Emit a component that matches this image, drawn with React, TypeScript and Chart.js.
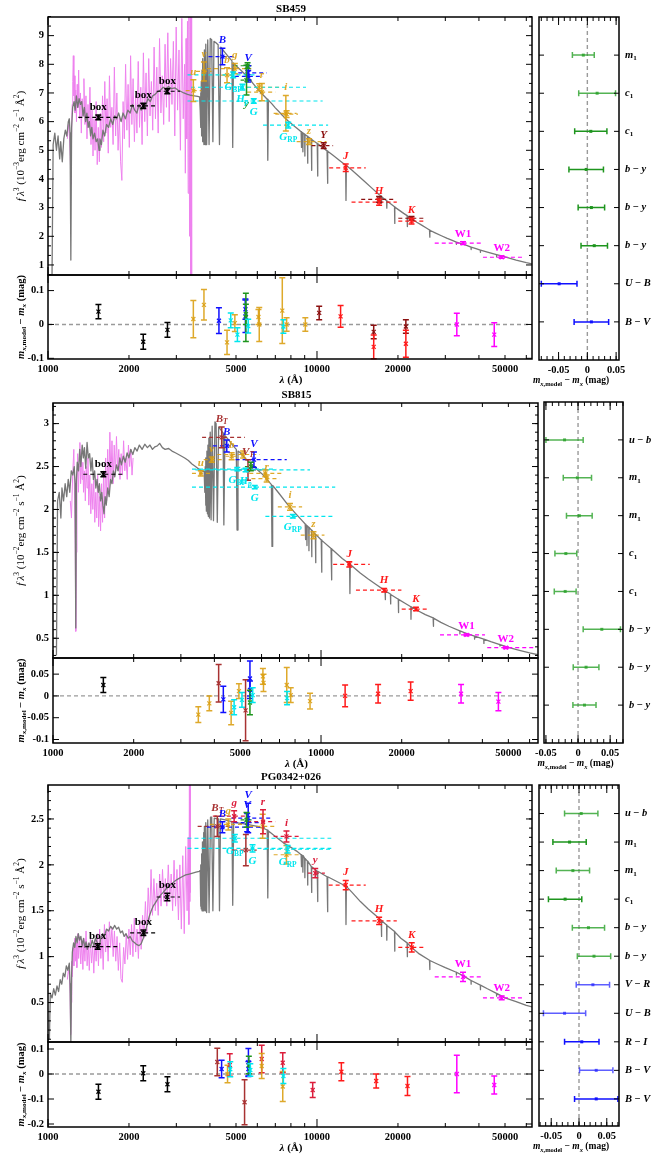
import React, { useEffect, useRef } from 'react';
import { Chart, registerables } from 'chart.js';

Chart.register(...registerables);

const W = 665;
const H = 1155;
const FONT = "'Liberation Serif','DejaVu Serif','Times New Roman',serif";

// ================= DATA =================
// ---- SB459 ----
const p1Model: number[][] = [[1035,0.6],[1045,5.2],[1060,5.6],[1075,5.0],[1090,5.5],[1105,4.7],[1115,5.3],[1130,4.6],[1145,5.4],[1160,5.7],[1175,5.5],[1190,6.0],[1200,6.1],[1208,5.6],[1216,1.17],[1224,5.8],[1235,6.5],[1250,6.7],[1262,6.4],[1275,6.9],[1290,6.5],[1305,6.8],[1320,6.6],[1335,6.7],[1350,6.2],[1365,6.5],[1380,6.0],[1395,6.3],[1410,5.8],[1425,6.0],[1440,5.5],[1455,5.8],[1470,5.4],[1490,5.6],[1510,5.3],[1530,5.4],[1548,5.0],[1560,5.4],[1580,5.2],[1600,5.7],[1625,5.5],[1650,5.9],[1680,5.8],[1710,6.1],[1740,5.9],[1770,6.2],[1800,6.1],[1830,6.3],[1870,6.0],[1900,6.3],[1940,6.1],[1980,6.4],[2020,6.3],[2060,6.6],[2100,6.4],[2140,6.3],[2180,6.6],[2220,6.4],[2260,6.6],[2300,6.5],[2350,6.8],[2400,6.7],[2450,6.9],[2500,6.95],[2560,7.05],[2620,7.1],[2680,7.2],[2740,7.15],[2800,7.22],[2880,7.15],[2960,7.18],[3040,7.1],[3120,7.05],[3200,7.0],[3300,6.95],[3400,6.92],[3500,6.9],[3600,6.88],[3660,6.86],[3680,6.4],[3692,7.0],[3703,5.8],[3715,7.4],[3725,5.5],[3738,7.8],[3750,5.3],[3768,8.2],[3798,5.2],[3815,8.5],[3835,5.2],[3860,8.7],[3889,5.2],[3925,8.85],[3970,5.2],[4010,8.9],[4060,8.86],[4102,5.3],[4140,8.8],[4200,8.76],[4290,8.68],[4340,5.2],[4390,8.6],[4470,8.5],[4560,8.4],[4650,8.3],[4750,8.2],[4830,8.12],[4861,5.1],[4890,8.05],[5000,7.95],[5200,7.8],[5400,7.65],[5600,7.5],[5800,7.32],[6000,7.15],[6200,7.0],[6400,6.87],[6530,6.78],[6563,4.65],[6600,6.75],[6800,6.62],[7000,6.48],[7200,6.36],[7400,6.24],[7600,6.13],[7800,6.03],[8000,5.94],[8200,5.86],[8400,5.78],[8600,5.7],[8730,5.65],[8750,5.1],[8770,5.64],[8845,5.61],[8863,4.95],[8880,5.6],[9000,5.56],[9015,4.8],[9030,5.55],[9210,5.49],[9229,4.55],[9250,5.48],[9525,5.39],[9546,4.3],[9570,5.38],[10020,5.24],[10049,4.1],[10080,5.23],[10900,4.98],[10938,3.85],[10980,4.97],[11500,4.82],[12200,4.63],[12780,4.48],[12818,3.25],[12860,4.47],[13500,4.3],[14200,4.12],[15000,3.92],[16000,3.68],[17000,3.46],[17330,3.4],[17367,3.15],[17400,3.38],[18150,3.24],[18179,2.98],[18210,3.23],[19420,3.03],[19451,2.45],[19480,3.02],[20000,2.94],[21000,2.8],[21630,2.72],[21661,2.34],[21700,2.71],[22500,2.61],[23500,2.49],[24500,2.39],[25500,2.29],[26200,2.22],[26252,1.97],[26300,2.21],[27500,2.12],[29000,2.02],[30500,1.93],[32000,1.85],[32950,1.8],[32970,1.72],[33000,1.8],[34500,1.74],[36000,1.68],[37380,1.62],[37405,1.54],[37430,1.62],[39000,1.57],[40480,1.52],[40512,1.44],[40550,1.52],[43000,1.45],[46490,1.36],[46525,1.28],[46560,1.36],[50000,1.28],[55000,1.17],[60000,1.08],[63500,1.03]];
const p1Iue: number[][] = [[1180,5.4],[1190,5.9],[1200,5.6],[1210,4.8],[1216,3.8],[1222,5.2],[1230,6.6],[1236,7.4],[1242,8.3],[1248,6.9],[1254,7.6],[1260,6.3],[1268,7.1],[1276,6.0],[1284,7.3],[1292,6.5],[1300,7.8],[1310,6.1],[1320,7.0],[1330,5.6],[1340,6.8],[1350,6.2],[1360,7.5],[1372,5.9],[1384,6.9],[1396,5.4],[1408,6.6],[1420,5.8],[1432,7.2],[1445,5.2],[1458,6.4],[1470,4.8],[1483,6.1],[1496,5.0],[1510,6.7],[1524,4.5],[1538,5.8],[1552,4.6],[1566,6.3],[1580,5.1],[1595,6.9],[1610,5.3],[1626,7.4],[1642,5.6],[1658,6.8],[1675,4.9],[1692,7.6],[1710,5.8],[1728,6.5],[1746,5.2],[1765,7.9],[1784,5.5],[1803,7.0],[1822,5.0],[1842,6.2],[1862,4.6],[1882,3.95],[1902,6.7],[1922,5.4],[1943,8.0],[1964,5.7],[1985,7.3],[2006,5.1],[2028,8.3],[2050,5.9],[2072,7.5],[2095,5.3],[2118,6.9],[2141,5.6],[2165,8.1],[2189,5.8],[2213,7.2],[2238,5.2],[2263,8.4],[2289,6.0],[2315,7.7],[2341,5.5],[2368,8.2],[2395,6.2],[2423,7.4],[2451,5.7],[2480,8.6],[2509,6.1],[2538,7.9],[2568,5.6],[2598,8.9],[2629,6.3],[2660,7.6],[2692,5.9],[2724,8.7],[2756,6.5],[2789,9.1],[2822,6.0],[2856,8.2],[2890,6.6],[2925,8.8],[2960,5.5],[2996,9.3],[3032,6.4],[3069,8.5],[3106,5.0],[3144,9.6],[3182,6.1],[3220,8.0],[3240,4.2],[3260,8.9],[3280,5.4],[3300,9.5],[3320,3.5],[3340,9.9],[3360,2.0],[3380,10.5],[3395,0.2],[3410,10.5],[3420,0.0]];
const p1PhotWave = [1538, 2261, 2777, 3470, 3800, 4630, 4950, 6240, 6100, 7660, 7710, 9340, 4450, 5550, 5550, 5470, 5520, 4880, 5280, 5820, 7820, 10590, 12790, 17020, 17020, 22460, 22460, 34900, 48600];
const p1PhotFlux = [6.15, 6.55, 7.06, 7.08, 7.75, 7.62, 7.85, 7.03, 7.2, 6.29, 6.26, 5.3, 8.27, 7.7, 7.58, 7.45, 7.95, 7.63, 7.2, 6.72, 5.88, 5.16, 4.39, 3.29, 3.19, 2.63, 2.53, 1.76, 1.27];
const p1PhotErr = [0.08, 0.09, 0.09, 0.38, 0.33, 0.26, 0.18, 0.3, 0.12, 0.62, 0.12, 0.1, 0.29, 0.25, 0.2, 0.52, 0.1, 0.1, 0.1, 0.08, 0.1, 0.1, 0.13, 0.1, 0.11, 0.06, 0.1, 0.05, 0.04];
const p1PhotLo = [1296, 2018, 2535, 3250, 3550, 4400, 3900, 5500, 5500, 6900, 7000, 8400, 3950, 4800, 4950, 5200, 4900, 3300, 3400, 3300, 6300, 9540, 11100, 14600, 13440, 20060, 20060, 27400, 41400];
const p1PhotHi = [1825, 2535, 3097, 3720, 4060, 4880, 5700, 7000, 7300, 8400, 8500, 10850, 4900, 6500, 6300, 5750, 5800, 6000, 9100, 10500, 11000, 11480, 15180, 19530, 19800, 25240, 25240, 40980, 59200];
const p1PhotSys = ['box','box','box','orange','orange','orange','orange','orange','orange','orange','orange','orange','johnson','johnson','johnson','stromgren','stromgren','gaia','hip','gaia','gaia','ukidss','twomass','ukidss','twomass','ukidss','twomass','wise','wise'];
const p1PhotLabel = ['box','box','box','u','v','b','g','r','','i','','z','B','V','','y','','G_BP','H_p','G','G_RP','Y','J','','H','','K','W1','W2'];
const p1ResWave = [1540, 2260, 2780, 3470, 3800, 4320, 4630, 4780, 4950, 5060, 5420, 5420, 5440, 5440, 5550, 6060, 6100, 7430, 7500, 7710, 9050, 10190, 12240, 16250, 16250, 21400, 21400, 33100, 45600];
const p1ResVal = [0.038, -0.051, -0.016, 0.016, 0.058, 0.011, -0.053, 0.012, 0.004, -0.03, 0.045, 0.024, 0.021, 0.03, -0.005, 0.022, 0, 0.041, -0.006, 0, 0, 0.034, 0.024, -0.022, -0.066, -0.006, -0.057, 0, -0.03];
const p1ResErr = [0.021, 0.022, 0.022, 0.055, 0.045, 0.038, 0.036, 0.022, 0.025, 0.02, 0.03, 0.048, 0.071, 0.03, 0.02, 0.022, 0.05, 0.097, 0.02, 0.02, 0.02, 0.02, 0.032, 0.02, 0.035, 0.02, 0.04, 0.033, 0.035];
const p1ResSys = ['box','box','box','orange','orange','johnson','orange','gaia','orange','gaia','johnson','johnson','stromgren','stromgren','gaia','orange','orange','orange','gaia','orange','orange','ukidss','twomass','ukidss','twomass','ukidss','twomass','wise','wise'];
const p1ColName = ['m1', 'c1', 'c1', 'b-y', 'b-y', 'b-y', 'U-B', 'B-V'];
const p1ColVal = [-0.007, 0.017, 0.006, -0.002, 0.007, 0.012, -0.049, 0.007];
const p1ColErr = [0.019, 0.032, 0.028, 0.03, 0.023, 0.023, 0.031, 0.03];
const p1ColSys = ['stromgrenL','stromgrenL','stromgren','stromgren','stromgren','stromgren','johnson','johnson'];

// ---- SB815 ----
const p2Model: number[][] = [[1030,0.3],[1040,2.1],[1055,2.2],[1070,1.9],[1080,2.25],[1095,2.1],[1110,2.3],[1125,2.15],[1140,2.35],[1155,2.2],[1170,2.45],[1185,2.4],[1200,2.5],[1209,2.3],[1216,0.62],[1223,2.35],[1232,2.55],[1245,2.45],[1258,2.7],[1270,2.5],[1285,2.75],[1298,2.6],[1310,2.72],[1325,2.48],[1340,2.78],[1355,2.6],[1370,2.65],[1385,2.45],[1400,2.6],[1415,2.35],[1430,2.45],[1445,2.25],[1460,2.35],[1475,2.2],[1490,2.3],[1505,2.1],[1520,2.2],[1535,2.05],[1550,1.95],[1565,2.15],[1580,2.05],[1600,2.25],[1620,2.15],[1640,2.35],[1660,2.3],[1680,2.45],[1700,2.38],[1725,2.52],[1750,2.45],[1775,2.6],[1800,2.52],[1830,2.62],[1860,2.55],[1890,2.66],[1920,2.6],[1950,2.7],[1985,2.64],[2020,2.72],[2060,2.68],[2100,2.75],[2150,2.7],[2200,2.76],[2250,2.72],[2300,2.75],[2350,2.7],[2400,2.73],[2450,2.74],[2500,2.77],[2560,2.72],[2620,2.7],[2700,2.71],[2780,2.68],[2860,2.66],[2940,2.64],[3020,2.62],[3100,2.6],[3200,2.57],[3300,2.53],[3400,2.5],[3500,2.47],[3600,2.45],[3665,2.44],[3685,2.2],[3698,2.5],[3710,2.05],[3722,2.6],[3735,1.98],[3752,2.68],[3770,1.95],[3785,2.75],[3798,1.92],[3815,2.83],[3835,1.9],[3860,2.9],[3889,1.88],[3925,2.97],[3970,1.87],[4020,3.02],[4060,3.0],[4102,1.85],[4150,2.96],[4250,2.92],[4310,2.89],[4340,1.82],[4380,2.86],[4550,2.8],[4700,2.74],[4830,2.7],[4861,1.76],[4900,2.68],[5000,2.66],[5200,2.6],[5400,2.55],[5600,2.51],[5800,2.46],[6000,2.42],[6250,2.36],[6530,2.29],[6563,1.57],[6600,2.28],[6800,2.23],[7000,2.18],[7500,2.06],[8000,1.96],[8500,1.87],[8730,1.83],[8750,1.65],[8770,1.83],[8845,1.81],[8863,1.58],[8880,1.81],[9000,1.79],[9015,1.52],[9030,1.79],[9210,1.76],[9229,1.45],[9250,1.76],[9525,1.71],[9546,1.38],[9570,1.71],[10020,1.645],[10049,1.27],[10080,1.64],[10900,1.545],[10938,1.18],[10980,1.54],[12000,1.43],[12780,1.365],[12818,1.02],[12860,1.36],[14000,1.26],[15000,1.19],[16000,1.13],[17330,1.055],[17367,0.95],[17400,1.05],[18150,1.015],[18179,0.9],[18210,1.01],[19420,0.955],[19451,0.8],[19480,0.953],[20500,0.91],[21630,0.867],[21661,0.72],[21700,0.865],[23000,0.82],[24500,0.775],[26200,0.737],[26252,0.64],[26300,0.735],[28000,0.685],[30000,0.64],[32950,0.585],[32970,0.55],[33000,0.585],[35000,0.555],[37380,0.525],[37405,0.49],[37430,0.524],[40480,0.49],[40512,0.44],[40550,0.49],[43000,0.46],[46490,0.427],[46525,0.41],[46560,0.426],[50000,0.395],[55000,0.36],[60000,0.33],[65000,0.305]];
const p2Iue: number[][] = [[1160,2.1],[1172,1.9],[1184,2.4],[1196,2.7],[1204,2.1],[1210,1.6],[1216,0.58],[1222,1.5],[1228,2.3],[1236,2.65],[1244,2.2],[1252,2.5],[1260,2.78],[1268,2.3],[1276,2.6],[1284,2.35],[1292,2.55],[1300,2.2],[1310,2.45],[1320,2.1],[1330,2.5],[1340,2.25],[1350,2.6],[1360,2.05],[1372,2.4],[1384,1.95],[1396,2.3],[1408,2.0],[1420,2.35],[1432,1.85],[1444,2.2],[1456,1.9],[1468,2.4],[1480,1.8],[1492,2.15],[1505,1.75],[1518,2.3],[1531,1.85],[1545,2.45],[1558,1.9],[1572,2.6],[1586,2.1],[1600,2.7],[1615,2.2],[1630,2.9],[1645,2.35],[1660,2.8],[1676,2.3],[1692,2.75],[1708,2.4],[1725,2.85],[1742,2.45],[1760,2.7],[1778,2.35],[1796,2.65],[1815,2.4],[1834,2.8],[1853,2.45],[1872,2.6],[1892,2.35],[1912,2.75],[1932,2.5],[1952,2.7],[1972,2.4],[1990,2.6]];
const p2PhotWave = [1541, 3560, 3910, 4640, 5120, 6270, 6200, 7660, 9370, 4260, 5340, 4450, 5620, 5470, 4870, 5230, 5660, 7850, 12750, 17200, 22600, 34900, 48900];
const p2PhotFlux = [2.41, 2.42, 2.58, 2.62, 2.64, 2.36, 2.42, 2.03, 1.70, 2.84, 2.46, 2.74, 2.58, 2.5, 2.47, 2.46, 2.26, 1.92, 1.36, 1.06, 0.84, 0.54, 0.39];
const p2PhotErr = [0.03, 0.03, 0.03, 0.04, 0.04, 0.04, 0.04, 0.04, 0.04, 0.12, 0.12, 0.07, 0.09, 0.05, 0.02, 0.02, 0.02, 0.02, 0.03, 0.02, 0.02, 0.01, 0.01];
const p2PhotLo = [1297, 3300, 3650, 4400, 4100, 5500, 5400, 6900, 8400, 3600, 4900, 3950, 4800, 5200, 3300, 3400, 3300, 6200, 11100, 13500, 20000, 27800, 41700];
const p2PhotHi = [1830, 3900, 4300, 4900, 5900, 7000, 7200, 8500, 10300, 5200, 6000, 4950, 7450, 5750, 6800, 9100, 11300, 11300, 15200, 19950, 25100, 40900, 62700];
const p2PhotSys = ['box','orange','orange','orange','orange','orange','orange','orange','orange','tycho','tycho','johnson','johnson','stromgren','gaia','hip','gaia','gaia','twomass','twomass','twomass','wise','wise'];
const p2PhotLabel = ['box','u','v','b','','r','','i','z','B_T','V_T','B','V','','G_BP','H_p','G','G_RP','J','H','K','W1','W2'];
const p2ResWave = [1541, 3485, 3830, 4150, 4320, 4620, 4740, 4940, 5070, 5230, 5430, 5430, 5430, 5560, 6070, 6100, 7450, 7470, 7710, 9100, 12300, 16330, 21600, 33300, 45900];
const p2ResVal = [0.025, -0.043, -0.017, 0.029, -0.008, -0.039, -0.026, 0.011, -0.009, -0.033, 0.04, 0.014, -0.015, 0.002, 0.045, 0.03, 0.025, -0.005, 0.002, -0.012, 0, 0.005, 0.011, 0.005, -0.013];
const p2ResErr = [0.017, 0.018, 0.017, 0.043, 0.03, 0.027, 0.017, 0.017, 0.017, 0.07, 0.04, 0.02, 0.028, 0.017, 0.018, 0.02, 0.04, 0.015, 0.017, 0.018, 0.025, 0.021, 0.021, 0.021, 0.021];
const p2ResSys = ['box','orange','orange','tycho','johnson','orange','gaia','orange','gaia','tycho','johnson','johnson','stromgren','gaia','orange','orange','orange','gaia','orange','orange','twomass','twomass','twomass','wise','wise'];
const p2ColName = ['u-b', 'm1', 'm1', 'c1', 'c1', 'b-y', 'b-y', 'b-y'];
const p2ColVal = [-0.021, -0.001, 0.002, -0.019, -0.02, 0.037, 0.0125, 0.01];
const p2ColErr = [0.029, 0.022, 0.02, 0.017, 0.017, 0.029, 0.02, 0.018];
const p2ColSys = ['stromgrenL','stromgrenL','stromgrenL','stromgrenL','stromgrenL','stromgrenL','stromgrenL','stromgrenL'];

// ---- PG0342+026 ----
const p3Model: number[][] = [[1012,0.1],[1020,0.6],[1035,0.55],[1050,0.65],[1065,0.58],[1080,0.68],[1095,0.62],[1110,0.75],[1125,0.7],[1140,0.82],[1155,0.78],[1170,0.9],[1185,0.85],[1200,0.93],[1208,0.7],[1216,0.05],[1224,0.8],[1232,1.05],[1245,1.15],[1258,1.1],[1270,1.22],[1283,1.15],[1296,1.25],[1310,1.18],[1325,1.22],[1340,1.12],[1355,1.2],[1370,1.1],[1385,1.16],[1400,1.08],[1420,1.15],[1440,1.1],[1460,1.18],[1480,1.12],[1500,1.2],[1525,1.15],[1548,1.08],[1570,1.2],[1595,1.25],[1620,1.22],[1650,1.3],[1680,1.28],[1710,1.33],[1740,1.3],[1770,1.34],[1800,1.3],[1830,1.32],[1860,1.26],[1890,1.28],[1920,1.22],[1950,1.25],[1985,1.2],[2020,1.22],[2060,1.17],[2100,1.15],[2140,1.13],[2180,1.12],[2220,1.14],[2260,1.2],[2300,1.27],[2340,1.36],[2380,1.44],[2420,1.5],[2460,1.55],[2500,1.58],[2560,1.63],[2620,1.67],[2680,1.7],[2750,1.74],[2820,1.77],[2900,1.8],[2980,1.83],[3060,1.85],[3150,1.87],[3250,1.89],[3350,1.9],[3450,1.91],[3550,1.92],[3650,1.93],[3680,1.94],[3692,1.55],[3703,2.0],[3714,1.52],[3726,2.12],[3738,1.5],[3752,2.25],[3770,1.5],[3785,2.35],[3798,1.5],[3815,2.42],[3835,1.5],[3860,2.46],[3889,1.48],[3925,2.49],[3970,1.48],[4020,2.52],[4060,2.52],[4102,1.5],[4150,2.51],[4250,2.5],[4310,2.5],[4340,1.5],[4380,2.5],[4550,2.49],[4700,2.48],[4830,2.47],[4861,1.56],[4900,2.47],[5000,2.46],[5500,2.44],[6000,2.42],[6300,2.4],[6530,2.38],[6563,1.64],[6600,2.37],[6800,2.34],[7000,2.31],[7500,2.24],[8000,2.19],[8400,2.15],[8730,2.11],[8750,1.98],[8770,2.11],[8845,2.1],[8863,1.92],[8880,2.1],[9000,2.07],[9015,1.86],[9030,2.07],[9210,2.04],[9229,1.78],[9250,2.04],[9525,1.98],[9546,1.7],[9570,1.98],[10020,1.93],[10049,1.6],[10080,1.93],[10900,1.87],[10938,1.49],[10980,1.87],[12000,1.81],[12780,1.77],[12818,1.35],[12860,1.765],[13500,1.7],[14500,1.6],[15500,1.52],[16500,1.45],[17330,1.395],[17367,1.22],[17400,1.39],[18150,1.345],[18179,1.18],[18210,1.34],[19420,1.275],[19451,1.06],[19480,1.27],[20500,1.2],[21630,1.15],[21661,1.0],[21700,1.145],[22500,1.1],[24000,1.03],[26200,0.96],[26252,0.86],[26300,0.958],[28000,0.92],[30000,0.88],[32950,0.83],[32970,0.8],[33000,0.83],[35000,0.79],[37380,0.74],[37405,0.7],[37430,0.74],[40480,0.69],[40512,0.64],[40550,0.69],[43000,0.65],[46490,0.6],[46525,0.57],[46560,0.6],[50000,0.55],[55000,0.51],[60000,0.47],[63500,0.45]];
const p3Iue: number[][] = [[1180,0.75],[1190,0.85],[1200,0.8],[1208,0.6],[1214,0.15],[1220,0.5],[1226,0.95],[1232,0.78],[1240,1.1],[1248,0.9],[1256,1.2],[1264,0.95],[1272,1.15],[1280,0.88],[1290,1.25],[1300,0.98],[1312,1.22],[1324,0.92],[1336,1.18],[1348,0.86],[1360,1.2],[1372,0.95],[1385,1.28],[1398,0.9],[1411,1.15],[1424,0.85],[1438,1.2],[1452,0.93],[1466,1.12],[1480,0.82],[1495,1.18],[1510,0.95],[1525,1.25],[1540,0.9],[1556,1.3],[1572,0.98],[1588,1.22],[1604,0.86],[1621,1.35],[1638,1.05],[1655,1.3],[1673,0.95],[1691,1.38],[1709,1.1],[1728,1.32],[1747,1.0],[1766,1.28],[1786,0.95],[1806,1.22],[1826,0.85],[1847,1.15],[1868,0.76],[1889,0.72],[1910,1.1],[1932,0.92],[1954,1.25],[1976,0.97],[1999,1.3],[2022,1.02],[2045,1.35],[2069,1.0],[2093,1.42],[2118,1.05],[2143,1.3],[2168,0.98],[2194,1.4],[2220,1.08],[2247,1.45],[2274,1.2],[2302,1.6],[2330,1.25],[2358,1.75],[2387,1.4],[2416,1.95],[2446,1.45],[2476,1.85],[2506,1.5],[2537,1.8],[2568,1.45],[2600,1.9],[2632,1.55],[2665,1.95],[2698,1.6],[2731,1.85],[2765,1.55],[2800,2.0],[2835,1.6],[2870,1.9],[2906,1.5],[2942,2.05],[2979,1.55],[3016,1.95],[3054,1.4],[3092,2.0],[3131,1.3],[3170,2.1],[3210,1.25],[3250,2.2],[3290,1.5],[3320,2.3],[3340,1.35],[3355,2.9],[3365,1.6],[3375,2.95],[3385,1.7]];
const p3PhotWave = [1530, 2262, 2777, 4260, 5440, 4450, 5550, 5500, 4680, 6280, 7700, 4920, 6300, 7700, 9850, 5470, 4950, 5760, 7780, 12790, 17020, 22500, 34900, 48600];
const p3PhotFlux = [1.11, 1.26, 1.65, 2.42, 2.16, 2.41, 2.51, 2.46, 2.44, 2.42, 2.11, 2.53, 2.47, 2.31, 1.91, 2.49, 2.29, 2.18, 2.17, 1.78, 1.39, 1.10, 0.78, 0.55];
const p3PhotErr = [0.03, 0.03, 0.04, 0.11, 0.17, 0.06, 0.16, 0.1, 0.06, 0.13, 0.1, 0.06, 0.13, 0.06, 0.05, 0.08, 0.04, 0.04, 0.04, 0.05, 0.04, 0.05, 0.05, 0.02];
const p3PhotLo = [1296, 2020, 2535, 3600, 4880, 3900, 4800, 4900, 4000, 5600, 6900, 4100, 5500, 6900, 9250, 5200, 3300, 3300, 6300, 11050, 13440, 20060, 27400, 41400];
const p3PhotHi = [1827, 2530, 3097, 4700, 5970, 6400, 6700, 6300, 5500, 7000, 8660, 5500, 7000, 8660, 10700, 5750, 11300, 11300, 11300, 15180, 19800, 25240, 40980, 59200];
const p3PhotSys = ['box','box','box','tycho','tycho','johnson','johnson','johnson','orange','orange','orange','sdss','sdss','sdss','sdss','stromgren','gaia','gaia','gaia','twomass','twomass','twomass','wise','wise'];
const p3PhotLabel = ['box','box','box','B_T','','B','V','V','g','','','g','r','i','y','','G_BP','G','G_RP','J','H','K','W1','W2'];
const p3ResWave = [1540, 2260, 2780, 4260, 4420, 4650, 4740, 4760, 5380, 5560, 5560, 5580, 5650, 6230, 6230, 7460, 7460, 7500, 9640, 12320, 16600, 21700, 33100, 45600];
const p3ResVal = [-0.071, 0.003, -0.041, 0.048, 0.02, 0, 0.036, 0.019, -0.113, 0.047, 0.02, 0.036, 0.016, 0.06, 0.032, 0.045, -0.05, -0.008, -0.064, 0.009, -0.028, -0.048, 0, -0.044];
const p3ResErr = [0.03, 0.03, 0.03, 0.055, 0.035, 0.035, 0.045, 0.03, 0.09, 0.055, 0.03, 0.035, 0.025, 0.055, 0.05, 0.04, 0.06, 0.03, 0.03, 0.036, 0.028, 0.038, 0.075, 0.036];
const p3ResSys = ['box','box','box','tycho','johnson','orange','sdss','gaia','tycho','johnson','johnson','stromgren','gaia','sdss','orange','sdss','orange','gaia','sdss','twomass','twomass','twomass','wise','wise'];
const p3ColName = ['u-b', 'm1', 'm1', 'c1', 'b-y', 'b-y', 'V-R', 'U-B', 'R-I', 'B-V', 'B-V'];
const p3ColVal = [0.004, -0.017, -0.011, -0.025, 0.017, 0.027, 0.025, -0.026, 0.005, 0.031, 0.031];
const p3ColErr = [0.03, 0.03, 0.03, 0.03, 0.029, 0.03, 0.03, 0.038, 0.031, 0.03, 0.039];
const p3ColSys = ['stromgrenL','stromgren','stromgrenL','stromgren','stromgrenL','stromgrenL','johnsonL','johnsonL','johnson','johnsonL','johnson'];

// axis ticks
const LOG_MAJOR = [1000, 10000];
const LOG_MINOR = [2000, 3000, 4000, 5000, 6000, 7000, 8000, 9000, 20000, 30000, 40000, 50000, 60000];
const LOG_LABELS = [1000, 2000, 5000, 10000, 20000, 50000];

// ================= STYLE =================
const SYS_COLOR: Record<string, string> = {
  box: '#000000',
  orange: 'rgba(218,160,20,0.9)',
  johnson: '#1010FF',
  johnsonL: 'rgba(40,40,255,0.75)',
  gaia: '#00E6EE',
  hip: '#00E6EE',
  tycho: '#A83232',
  sdss: '#DC1E3C',
  ukidss: '#8B1010',
  twomass: '#FF1A1A',
  wise: '#FF00FF',
  stromgren: '#1E951E',
  stromgrenL: 'rgba(40,160,40,0.8)',
};
const LABEL_BELOW = new Set(['gaia', 'hip', 'stromgren']);
const GREY = '#777777';
const PINK = '#EE82EE';

// ================= HELPERS =================
type Seg = { t: string; i?: boolean; r?: boolean; sub?: boolean; sup?: boolean };

function fontFor(s: Seg, size: number) {
  const sz = s.sub || s.sup ? size * 0.68 : size;
  return `${s.i ? 'italic ' : ''}${s.r ? '' : 'bold '}${sz.toFixed(1)}px ${FONT}`;
}

function drawRich(ctx: CanvasRenderingContext2D, segs: Seg[], x: number, y: number, size: number, color: string, align = 'center', rot = 0) {
  ctx.save();
  ctx.translate(x, y);
  if (rot) ctx.rotate(rot);
  let total = 0;
  const ws = segs.map((s) => {
    ctx.font = fontFor(s, size);
    const w = ctx.measureText(s.t).width;
    total += w;
    return w;
  });
  let cx = align === 'center' ? -total / 2 : align === 'right' ? -total : 0;
  ctx.fillStyle = color;
  ctx.textBaseline = 'middle';
  ctx.textAlign = 'left';
  segs.forEach((s, k) => {
    ctx.font = fontFor(s, size);
    const dy = s.sub ? size * 0.3 : s.sup ? -size * 0.36 : 0;
    ctx.fillText(s.t, cx, dy);
    cx += ws[k];
  });
  ctx.restore();
}

function photSegs(l: string): Seg[] {
  if (l === 'box' || /^W\d/.test(l)) return [{ t: l }];
  const [base, sub] = l.split('_');
  const segs: Seg[] = [{ t: base, i: true }];
  if (sub) segs.push({ t: sub, sub: true, i: sub.length === 1 });
  return segs;
}

function catSegs(s: string): Seg[] {
  if (/^[a-z]1$/.test(s)) return [{ t: s[0], i: true }, { t: '1', sub: true }];
  const [a, b] = s.split('-');
  return [{ t: a, i: true }, { t: ' − ' }, { t: b, i: true }];
}

const yTitle = (e: string): Seg[] => [
  { t: 'f\u2009', i: true, r: true }, { t: 'λ', i: true, r: true }, { t: '3', sup: true, r: true },
  { t: ' (10', r: true }, { t: '−' + e, sup: true, r: true }, { t: 'erg cm', r: true },
  { t: '−2', sup: true, r: true }, { t: ' s', r: true }, { t: '−1', sup: true, r: true },
  { t: ' Å', r: true }, { t: '2', sup: true, r: true }, { t: ')', r: true },
];
const RES_TITLE: Seg[] = [
  { t: 'm', i: true }, { t: 'x', i: true, sub: true }, { t: ',model', sub: true },
  { t: ' − ' }, { t: 'm', i: true }, { t: 'x', i: true, sub: true }, { t: ' (mag)' },
];
const LAM_TITLE: Seg[] = [{ t: 'λ', i: true }, { t: ' (Å)' }];

function steps(a: number, b: number, s: number) {
  const out: number[] = [];
  for (let k = 0; a + k * s <= b + 1e-9; k++) out.push(+(a + k * s).toFixed(6));
  return out;
}
function thirds(a: number, b: number) {
  const out: number[] = [];
  for (let k = a; k <= b; k++) { out.push(k + 1 / 3); out.push(k + 2 / 3); }
  return out;
}

interface TickSet { major: number[]; minor: number[]; labels?: number[] }
interface Decor {
  xt: TickSet; yt?: TickSet; cats?: string[];
  zeroH?: boolean; zeroV?: boolean;
  phot?: { w: number[]; f: number[]; e: number[]; lo: number[]; hi: number[]; sys: string[]; lab: string[] };
  res?: { w: number[]; v: number[]; e: number[]; sys: string[] };
  cols?: { v: number[]; e: number[]; sys: string[] };
  texts?: { segs: Seg[]; x: number; y: number; size: number; rot?: number }[];
}

function vbar(ctx: CanvasRenderingContext2D, px: number, py: number, pt: number, pb: number, c: string) {
  ctx.strokeStyle = c;
  ctx.lineWidth = 1.5;
  ctx.setLineDash([]);
  ctx.beginPath();
  ctx.moveTo(px, pt); ctx.lineTo(px, pb);
  ctx.moveTo(px - 3, pt); ctx.lineTo(px + 3, pt);
  ctx.moveTo(px - 3, pb); ctx.lineTo(px + 3, pb);
  ctx.stroke();
  ctx.lineWidth = 1.2;
  ctx.beginPath();
  ctx.moveTo(px - 2, py - 2); ctx.lineTo(px + 2, py + 2);
  ctx.moveTo(px - 2, py + 2); ctx.lineTo(px + 2, py - 2);
  ctx.stroke();
}

function hbar(ctx: CanvasRenderingContext2D, px: number, py: number, pl: number, pr: number, c: string) {
  ctx.strokeStyle = c;
  ctx.fillStyle = c;
  ctx.lineWidth = 1.5;
  ctx.setLineDash([]);
  ctx.beginPath();
  ctx.moveTo(pl, py); ctx.lineTo(pr, py);
  ctx.moveTo(pl, py - 3); ctx.lineTo(pl, py + 3);
  ctx.moveTo(pr, py - 3); ctx.lineTo(pr, py + 3);
  ctx.stroke();
  ctx.fillRect(px - 1.5, py - 1.5, 3, 3);
}

function decorPlugin(d: Decor) {
  return {
    id: 'decor',
    beforeDatasetsDraw(chart: any) {
      const { ctx, chartArea: a } = chart;
      const x = chart.scales.x;
      const y = chart.scales.y;
      ctx.save();
      ctx.strokeStyle = '#9a9a9a';
      ctx.lineWidth = 1.4;
      ctx.setLineDash([4, 3]);
      ctx.beginPath();
      if (d.zeroH) { const p = y.getPixelForValue(0); ctx.moveTo(a.left, p); ctx.lineTo(a.right, p); }
      if (d.zeroV) { const p = x.getPixelForValue(0); ctx.moveTo(p, a.top); ctx.lineTo(p, a.bottom); }
      ctx.stroke();
      ctx.restore();
    },
    afterDatasetsDraw(chart: any) {
      const { ctx, chartArea: a } = chart;
      const x = chart.scales.x;
      const y = chart.scales.y;
      ctx.save();
      if (d.phot) {
        const p = d.phot;
        ctx.save();
        ctx.beginPath();
        ctx.rect(a.left, a.top, a.right - a.left, a.bottom - a.top);
        ctx.clip();
        p.w.forEach((w, i) => {
          const yy = y.getPixelForValue(p.f[i]);
          ctx.strokeStyle = SYS_COLOR[p.sys[i]];
          ctx.lineWidth = 1.2;
          ctx.setLineDash([4, 3]);
          ctx.beginPath();
          ctx.moveTo(x.getPixelForValue(p.lo[i]), yy);
          ctx.lineTo(x.getPixelForValue(p.hi[i]), yy);
          ctx.stroke();
        });
        p.w.forEach((w, i) => {
          vbar(ctx, x.getPixelForValue(w), y.getPixelForValue(p.f[i]), y.getPixelForValue(p.f[i] + p.e[i]), y.getPixelForValue(p.f[i] - p.e[i]), SYS_COLOR[p.sys[i]]);
        });
        ctx.restore();
        p.lab.forEach((l, i) => {
          if (!l) return;
          const px = x.getPixelForValue(p.w[i]);
          const below = LABEL_BELOW.has(p.sys[i]);
          const py = below ? y.getPixelForValue(p.f[i] - p.e[i]) + 9 : y.getPixelForValue(p.f[i] + p.e[i]) - 8;
          drawRich(ctx, photSegs(l), px, py, 11, SYS_COLOR[p.sys[i]]);
        });
      }
      if (d.res) {
        const r = d.res;
        r.w.forEach((w, i) => {
          vbar(ctx, x.getPixelForValue(w), y.getPixelForValue(r.v[i]), y.getPixelForValue(r.v[i] + r.e[i]), y.getPixelForValue(r.v[i] - r.e[i]), SYS_COLOR[r.sys[i]]);
        });
      }
      if (d.cols) {
        const c = d.cols;
        c.v.forEach((v, i) => {
          hbar(ctx, x.getPixelForValue(v), y.getPixelForValue(i), x.getPixelForValue(v - c.e[i]), x.getPixelForValue(v + c.e[i]), SYS_COLOR[c.sys[i]]);
        });
      }
      ctx.setLineDash([]);
      ctx.strokeStyle = '#000';
      ctx.lineWidth = 1;
      ctx.beginPath();
      const xtick = (vals: number[], len: number) => vals.forEach((v) => {
        const px = x.getPixelForValue(v);
        if (px < a.left - 0.5 || px > a.right + 0.5) return;
        ctx.moveTo(px, a.bottom); ctx.lineTo(px, a.bottom - len);
        ctx.moveTo(px, a.top); ctx.lineTo(px, a.top + len);
      });
      const ytick = (vals: number[], len: number) => vals.forEach((v) => {
        const py = y.getPixelForValue(v);
        if (py < a.top - 0.5 || py > a.bottom + 0.5) return;
        ctx.moveTo(a.left, py); ctx.lineTo(a.left + len, py);
        ctx.moveTo(a.right, py); ctx.lineTo(a.right - len, py);
      });
      xtick(d.xt.major, 8);
      xtick(d.xt.minor, 4);
      if (d.yt) { ytick(d.yt.major, 6); ytick(d.yt.minor, 3); }
      if (d.cats) ytick(d.cats.map((_, i) => i), 5);
      ctx.stroke();
      ctx.lineWidth = 1.5;
      ctx.strokeRect(a.left, a.top, a.right - a.left, a.bottom - a.top);
      ctx.fillStyle = '#000';
      ctx.font = `bold 10.5px ${FONT}`;
      ctx.textBaseline = 'middle';
      if (d.xt.labels) {
        ctx.textAlign = 'center';
        d.xt.labels.forEach((v) => ctx.fillText(String(v), x.getPixelForValue(v), a.bottom + 10));
      }
      if (d.yt && d.yt.labels) {
        ctx.textAlign = 'right';
        d.yt.labels.forEach((v) => ctx.fillText(String(v), a.left - 4, y.getPixelForValue(v)));
      }
      if (d.cats) d.cats.forEach((n, i) => drawRich(ctx, catSegs(n), a.right + 6, y.getPixelForValue(i), 10.5, '#000', 'left'));
      (d.texts || []).forEach((t) => drawRich(ctx, t.segs, t.x, t.y, t.size, '#000', 'center', t.rot || 0));
      ctx.restore();
    },
  };
}

interface Spec { rect: number[]; x: any; y: any; datasets: any[]; decor: Decor }

function lineDs(pts: number[][], color: string, width: number) {
  return {
    data: pts.map((p) => ({ x: p[0], y: p[1] })),
    borderColor: color, borderWidth: width, pointRadius: 0, fill: false, tension: 0,
    borderJoinStyle: 'round',
  };
}

const ROT = -Math.PI / 2;

function buildSpecs(): Spec[] {
  const logX = (max: number) => ({ type: 'logarithmic', min: 1000, max });
  const panel = (o: any): Spec[] => {
    const [ml, mt, mr, mb] = o.main;
    const [rl, rt, rr, rb] = o.res;
    const [gl, gt, gr, gb] = o.right;
    const cx = (ml + mr) / 2 + 1;
    return [
      {
        rect: o.main, x: logX(o.xmax), y: { type: 'linear', min: o.ymain[0], max: o.ymain[1] },
        datasets: [lineDs(o.model, GREY, 1.3), lineDs(o.iue, PINK, 1)],
        decor: {
          xt: { major: LOG_MAJOR, minor: LOG_MINOR }, yt: o.ytMain, phot: o.phot,
          texts: [
            { segs: [{ t: o.title }], x: cx, y: mt - 8, size: 11 },
            { segs: yTitle(o.exp), x: 21, y: (mt + mb) / 2, size: 11, rot: ROT },
          ],
        },
      },
      {
        rect: o.res, x: logX(o.xmax), y: { type: 'linear', min: o.yres[0], max: o.yres[1] },
        datasets: [],
        decor: {
          xt: { major: LOG_MAJOR, minor: LOG_MINOR, labels: LOG_LABELS }, yt: o.ytRes, zeroH: true, res: o.resd,
          texts: [
            { segs: RES_TITLE, x: 21, y: (rt + rb) / 2, size: 10.5, rot: ROT },
            { segs: LAM_TITLE, x: cx, y: rb + 21, size: 11 },
          ],
        },
      },
      {
        rect: o.right, x: { type: 'linear', min: o.xright[0], max: o.xright[1] },
        y: { type: 'linear', min: -1, max: o.catsMax, reverse: true },
        datasets: [],
        decor: {
          xt: o.xtRight, cats: o.cats, zeroV: true, cols: o.cols,
          texts: [{ segs: RES_TITLE, x: (gl + gr) / 2 - 8, y: gb + 21, size: 9.5 }],
        },
      },
    ];
  };

  return [
    ...panel({
      title: 'SB459', exp: '3', main: [48, 17, 532, 275], res: [48, 275, 532, 359], right: [539, 17, 619, 360], xmax: 63000,
      ymain: [0.65, 9.65], yres: [-0.102, 0.146], xright: [-0.084, 0.055], catsMax: 8,
      ytMain: { major: steps(1, 9, 1), minor: thirds(0, 9), labels: steps(1, 9, 1) },
      ytRes: { major: [-0.1, 0, 0.1], minor: [], labels: [-0.1, 0, 0.1] },
      xtRight: { major: [-0.05, 0, 0.05], minor: steps(-0.08, 0.05, 0.01), labels: [-0.05, 0, 0.05] },
      model: p1Model, iue: p1Iue,
      phot: { w: p1PhotWave, f: p1PhotFlux, e: p1PhotErr, lo: p1PhotLo, hi: p1PhotHi, sys: p1PhotSys, lab: p1PhotLabel },
      resd: { w: p1ResWave, v: p1ResVal, e: p1ResErr, sys: p1ResSys },
      cols: { v: p1ColVal, e: p1ColErr, sys: p1ColSys }, cats: p1ColName,
    }),
    ...panel({
      title: 'SB815', exp: '2', main: [53, 403, 538, 658], res: [53, 658, 538, 743], right: [544, 402, 623, 743], xmax: 64500,
      ymain: [0.27, 3.24], yres: [-0.108, 0.087], xright: [-0.053, 0.07], catsMax: 8,
      ytMain: { major: steps(0.5, 3, 0.5), minor: steps(0.3, 3.2, 0.1), labels: steps(0.5, 3, 0.5) },
      ytRes: { major: [-0.1, -0.05, 0, 0.05], minor: [], labels: [-0.1, -0.05, 0, 0.05] },
      xtRight: { major: [-0.05, 0, 0.05], minor: steps(-0.05, 0.07, 0.01), labels: [-0.05, 0, 0.05] },
      model: p2Model, iue: p2Iue,
      phot: { w: p2PhotWave, f: p2PhotFlux, e: p2PhotErr, lo: p2PhotLo, hi: p2PhotHi, sys: p2PhotSys, lab: p2PhotLabel },
      resd: { w: p2ResWave, v: p2ResVal, e: p2ResErr, sys: p2ResSys },
      cols: { v: p2ColVal, e: p2ColErr, sys: p2ColSys }, cats: p2ColName,
    }),
    ...panel({
      title: 'PG0342+026', exp: '2', main: [48, 785, 532, 1042], res: [48, 1042, 532, 1127], right: [539, 785, 619, 1126], xmax: 63000,
      ymain: [0.07, 2.87], yres: [-0.212, 0.128], xright: [-0.072, 0.072], catsMax: 10.95,
      ytMain: { major: steps(0.5, 2.5, 0.5), minor: steps(0.1, 2.8, 0.1), labels: steps(0.5, 2.5, 0.5) },
      ytRes: { major: [-0.2, -0.1, 0, 0.1], minor: [], labels: [-0.2, -0.1, 0, 0.1] },
      xtRight: { major: [-0.05, 0, 0.05], minor: steps(-0.07, 0.07, 0.01), labels: [-0.05, 0, 0.05] },
      model: p3Model, iue: p3Iue,
      phot: { w: p3PhotWave, f: p3PhotFlux, e: p3PhotErr, lo: p3PhotLo, hi: p3PhotHi, sys: p3PhotSys, lab: p3PhotLabel },
      resd: { w: p3ResWave, v: p3ResVal, e: p3ResErr, sys: p3ResSys },
      cols: { v: p3ColVal, e: p3ColErr, sys: p3ColSys }, cats: p3ColName,
    }),
  ];
}

function makeChart(canvas: HTMLCanvasElement, s: Spec) {
  const [l, t, r, b] = s.rect;
  return new Chart(canvas, {
    type: 'line',
    data: { datasets: s.datasets },
    options: {
      animation: false,
      responsive: false,
      maintainAspectRatio: false,
      devicePixelRatio: 1,
      events: [],
      layout: { padding: { left: l, top: t, right: W - r, bottom: H - b } },
      plugins: { legend: { display: false }, tooltip: { enabled: false }, title: { display: false } },
      scales: { x: { ...s.x, display: false }, y: { ...s.y, display: false } },
    } as any,
    plugins: [decorPlugin(s.decor) as any],
  } as any);
}

const N_CHARTS = 9;

export default function App() {
  const refs = useRef<(HTMLCanvasElement | null)[]>([]);
  useEffect(() => {
    const specs = buildSpecs();
    const charts = specs.map((s, i) => makeChart(refs.current[i] as HTMLCanvasElement, s));
    return () => charts.forEach((c) => c.destroy());
  }, []);
  const canv = [];
  for (let i = 0; i < N_CHARTS; i++) {
    canv.push(
      <canvas key={i} ref={(el) => { refs.current[i] = el; }} width={W} height={H}
        style={{ position: 'absolute', left: 0, top: 0, width: W, height: H }} />
    );
  }
  return (
    <div style={{ position: 'absolute', left: 0, top: 0, width: W, height: H, background: '#fff', overflow: 'hidden' }}>
      {canv}
    </div>
  );
}
